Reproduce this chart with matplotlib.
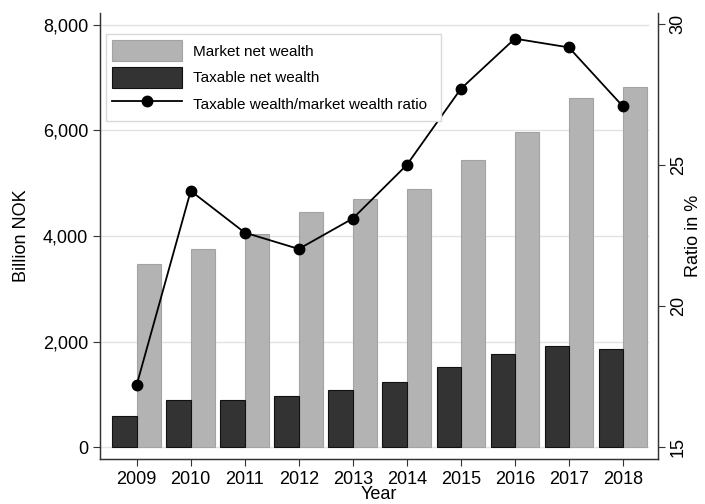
import numpy as np
import matplotlib
matplotlib.use('Agg')
import matplotlib.pyplot as plt
from matplotlib.ticker import FuncFormatter

plt.rcParams['font.family'] = ['Liberation Sans', 'DejaVu Sans']

years = [2009, 2010, 2011, 2012, 2013, 2014, 2015, 2016, 2017, 2018]
market_wealth = [3460, 3750, 4040, 4450, 4700, 4900, 5450, 5980, 6620, 6830]
taxable_wealth = [590, 900, 900, 970, 1075, 1225, 1510, 1760, 1920, 1850]
ratio_pct = [17.2, 24.08, 22.6, 22.02, 23.1, 25.0, 27.7, 29.48, 29.17, 27.08]
left_ticks = [0, 2000, 4000, 6000, 8000]
right_ticks = [15, 20, 25, 30]

x = np.array(years)
w = 0.45

fig = plt.figure(figsize=(7.05, 5.04), dpi=100)
ax = fig.add_axes([0.1418, 0.0893, 0.7915, 0.8849])

# gridlines (only over the plotting region)
for t in left_ticks:
    ax.axhline(t, xmin=0, xmax=0.982, color='#e3e3e3', lw=1.0, zorder=0)

ax.bar(x + w / 2, market_wealth, width=w, color='#b3b3b3', edgecolor='#a3a3a3',
       linewidth=0.8, label='Market net wealth', zorder=2)
ax.bar(x - w / 2, taxable_wealth, width=w, color='#333333', edgecolor='#111111',
       linewidth=0.8, label='Taxable net wealth', zorder=2)

ax.set_xlim(2008.32, 2018.65)
ax.set_ylim(-227, 8227)
ax.set_xticks(years)
ax.set_yticks(left_ticks)
ax.yaxis.set_major_formatter(FuncFormatter(lambda v, p: f'{int(v):,}'))
ax.set_ylabel('Billion NOK', fontsize=13, va='center')
ax.yaxis.set_label_coords(-0.14, 0.5)
ax.set_xlabel('Year', fontsize=13, va='center')
ax.xaxis.set_label_coords(0.5, -0.079)
ax.tick_params(axis='both', labelsize=13, length=5, width=0.8, color='#333333')
ax.spines['top'].set_visible(False)

ax2 = ax.twinx()
ax2.plot(x, ratio_pct, color='black', lw=1.3, marker='o', markersize=7.5,
         label='Taxable wealth/market wealth ratio', zorder=3)
ax2.set_ylim(14.57, 30.39)
ax2.set_yticks(right_ticks)
ax2.set_ylabel('Ratio in %', fontsize=13, va='center')
ax2.yaxis.set_label_coords(1.0645, 0.5)
ax2.tick_params(axis='y', labelsize=13, length=5, width=0.8, color='#333333')
for lab in ax2.get_yticklabels():
    lab.set_rotation(90)
    lab.set_va('center')
ax2.spines['top'].set_visible(False)
for a in (ax, ax2):
    for s in ('left', 'bottom', 'right'):
        a.spines[s].set_color('#333333')
        a.spines[s].set_linewidth(0.9)

h1, l1 = ax.get_legend_handles_labels()
h2, l2 = ax2.get_legend_handles_labels()
leg = ax2.legend(h1 + h2, l1 + l2, loc='upper left',
                 bbox_to_anchor=(0.0108, 0.5, 0.600, 0.453), mode='expand',
                 borderaxespad=0, fontsize=11, fancybox=False, framealpha=1,
                 edgecolor='#d9d9d9', handlelength=4.6, handleheight=1.78,
                 labelspacing=0.33, handletextpad=0.7, borderpad=0.4)
leg.get_frame().set_linewidth(1.0)

fig.savefig('out.png', dpi=100)
